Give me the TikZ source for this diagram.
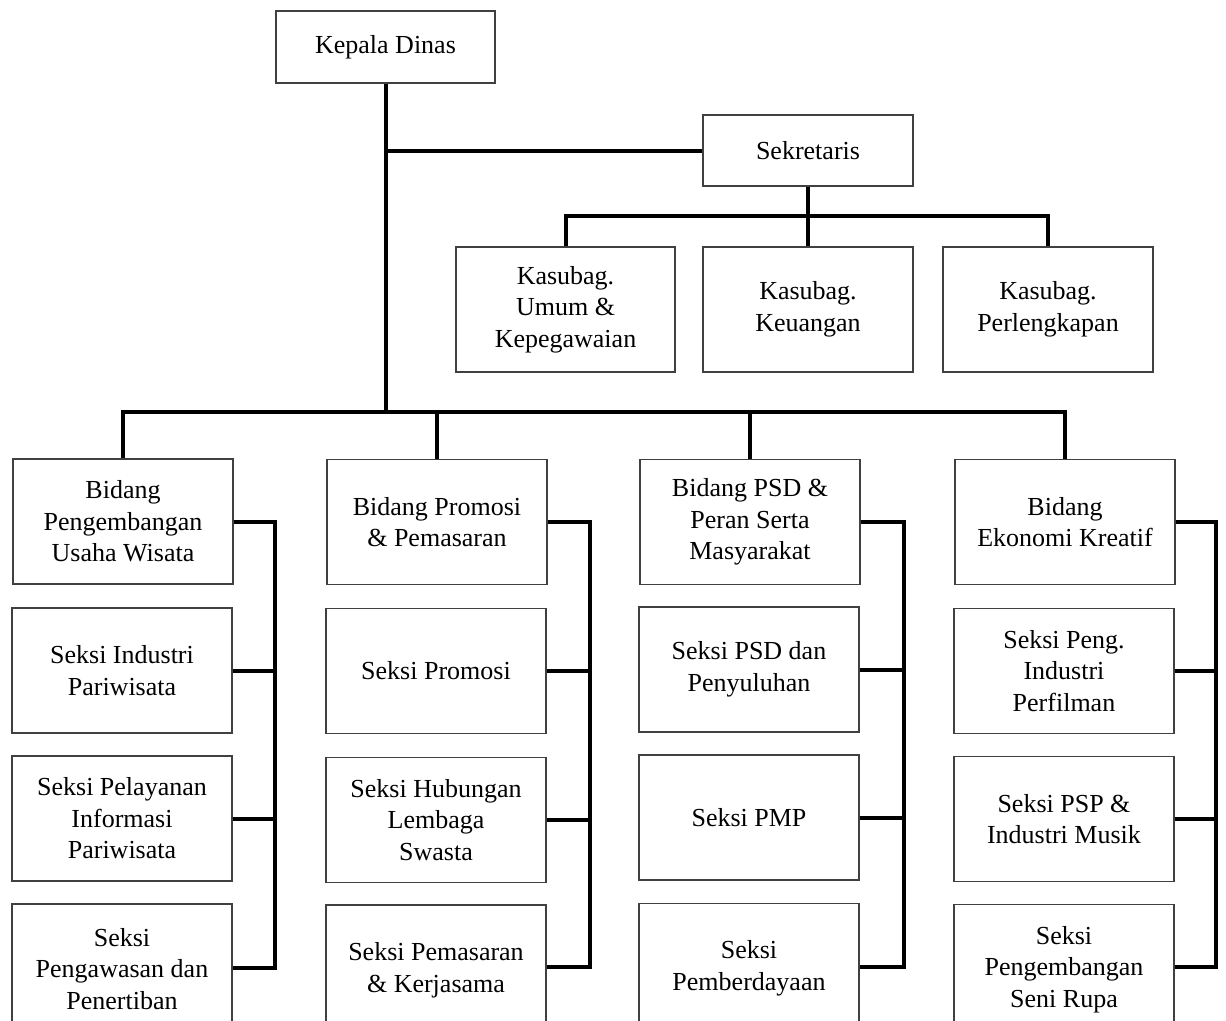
\documentclass[tikz,border=0pt]{standalone}
\usepackage{fontspec}
\setmainfont{Liberation Serif}
\begin{document}
\begin{tikzpicture}[x=1pt,y=-1pt,
  box/.style={draw=black!75, line width=1.1pt, rectangle, minimum width=220pt, minimum height=125pt, inner sep=0pt, align=center, font=\fontsize{26}{31.5}\selectfont},
  conn/.style={line width=4pt, line join=miter}]
\useasboundingbox (0,0) rectangle (1226,1020);
\clip (0,0) rectangle (1226,1020);
% top
\node[box, minimum width=219pt, minimum height=72pt] (kd) at (385.5,47) {Kepala Dinas};
\node[box, minimum width=210pt, minimum height=71pt] (sek) at (808,150.5) {Sekretaris};
\node[box, minimum width=219pt] (ku) at (565.5,309.5) {Kasubag.\\Umum \&\\Kepegawaian};
\node[box, minimum width=210pt] (kk) at (808,309.5) {Kasubag.\\Keuangan};
\node[box, minimum width=210pt] (kp) at (1048,309.5) {Kasubag.\\Perlengkapan};
% column 1
\node[box] (b1) at (123,521.5) {Bidang\\Pengembangan\\Usaha Wisata};
\node[box] (s12) at (122,670.5) {Seksi Industri\\Pariwisata};
\node[box] (s13) at (122,818.5) {Seksi Pelayanan\\Informasi\\Pariwisata};
\node[box, minimum height=130pt] (s14) at (122,969) {Seksi\\Pengawasan dan\\Penertiban};
% column 2
\node[box] (b2) at (437,522) {Bidang Promosi\\\& Pemasaran};
\node[box] (s22) at (436,671) {Seksi Promosi};
\node[box] (s23) at (436,820) {Seksi Hubungan\\Lembaga\\Swasta};
\node[box, minimum height=130pt] (s24) at (436,970) {Seksi Pemasaran\\\& Kerjasama};
% column 3
\node[box] (b3) at (750,522) {Bidang PSD \&\\Peran Serta\\Masyarakat};
\node[box] (s32) at (749,669.5) {Seksi PSD dan\\Penyuluhan};
\node[box] (s33) at (749,817.5) {Seksi PMP};
\node[box, minimum height=130pt] (s34) at (749,968.5) {Seksi\\Pemberdayaan};
% column 4
\node[box] (b4) at (1065,522) {Bidang\\Ekonomi Kreatif};
\node[box] (s42) at (1064,671) {Seksi Peng.\\Industri\\Perfilman};
\node[box] (s43) at (1064,819) {Seksi PSP \&\\Industri Musik};
\node[box, minimum height=130pt] (s44) at (1064,969.5) {Seksi\\Pengembangan\\Seni Rupa};
% bus coordinates
\coordinate (bus) at (0,412);
\coordinate (sbus) at (0,216);
\coordinate (v1) at (275,0);
\coordinate (v2) at (590,0);
\coordinate (v3) at (904,0);
\coordinate (v4) at (1216,0);
\coordinate (e14) at (0,968);
\coordinate (e24) at (0,967);
\coordinate (e34) at (0,967);
\coordinate (e44) at (0,967);
% connectors
\draw[conn] (kd.south) -- (kd.south |- bus);
\draw[conn] (kd.south |- sek.west) -- (sek.west);
\draw[conn] (sek.south) -- (sek.south |- sbus);
\draw[conn] (ku.north) -- (ku.north |- sbus) -- (kp.north |- sbus) -- (kp.north);
\draw[conn] (kk.north) -- (kk.north |- sbus);
\draw[conn] (b1.north) -- (b1.north |- bus) -- (b4.north |- bus) -- (b4.north);
\draw[conn] (b2.north) -- (b2.north |- bus);
\draw[conn] (b3.north) -- (b3.north |- bus);
% column buses
\draw[conn] (b1.east) -- (b1.east -| v1) -- (v1 |- e14) -- (s14.east |- e14);
\draw[conn] (s12.east) -- (s12.east -| v1);
\draw[conn] (s13.east) -- (s13.east -| v1);
\draw[conn] (b2.east) -- (b2.east -| v2) -- (v2 |- e24) -- (s24.east |- e24);
\draw[conn] (s22.east) -- (s22.east -| v2);
\draw[conn] (s23.east) -- (s23.east -| v2);
\draw[conn] (b3.east) -- (b3.east -| v3) -- (v3 |- e34) -- (s34.east |- e34);
\draw[conn] (s32.east) -- (s32.east -| v3);
\draw[conn] (s33.east) -- (s33.east -| v3);
\draw[conn] (b4.east) -- (b4.east -| v4) -- (v4 |- e44) -- (s44.east |- e44);
\draw[conn] (s42.east) -- (s42.east -| v4);
\draw[conn] (s43.east) -- (s43.east -| v4);
\end{tikzpicture}
\end{document}
